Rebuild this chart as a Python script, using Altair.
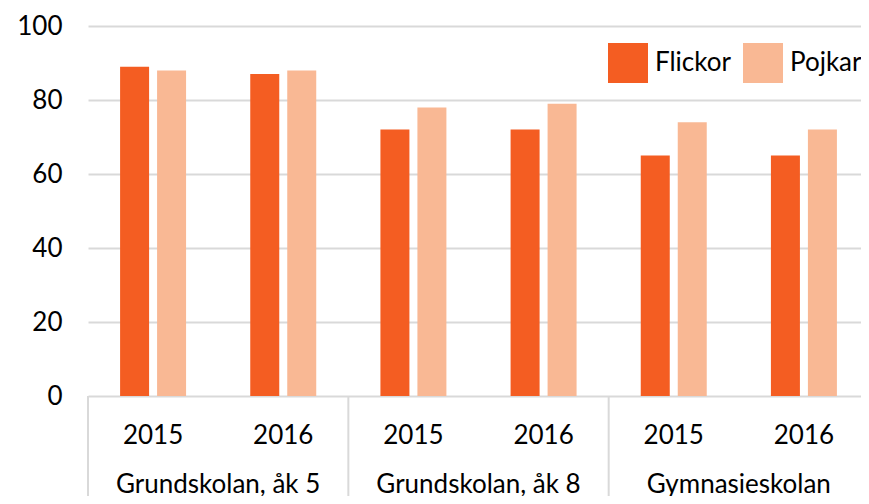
import altair as alt
import pandas as pd

grupper = ["Grundskolan, åk 5", "Grundskolan, åk 8", "Gymnasieskolan"]
ar = ["2015", "2016"]
serier = ["Flickor", "Pojkar"]
flickor = [89, 87, 72, 72, 65, 65]
pojkar = [88, 88, 78, 79, 74, 72]
grupp_pos = [1, 3, 5]
separator_pos = [0, 2, 4, 6]

FONT = "Lato"
FS = 26
W, H = 773, 370
FULLW = 781

keys, years, groups = [], [], []
for g in grupper:
    for a in ar:
        keys.append(f"{g} {a}")
        years.append(a)
        groups.append(g)

rows = []
for i, k in enumerate(keys):
    rows.append({"key": k, "ar": years[i], "grupp": groups[i], "serie": serier[0], "varde": flickor[i]})
    rows.append({"key": k, "ar": years[i], "grupp": groups[i], "serie": serier[1], "varde": pojkar[i]})
df = pd.DataFrame(rows)
df_years = pd.DataFrame({"key": keys, "ar": years})
df_groups = pd.DataFrame({"pos": grupp_pos, "namn": grupper})
df_sep = pd.DataFrame({"pos": separator_pos})

xscale = alt.Scale(domain=keys, paddingInner=0.493, paddingOuter=0.2465, range=[0, FULLW])

bars = alt.Chart(df).mark_bar().encode(
    x=alt.X("key:N", scale=xscale, axis=None, sort=keys),
    xOffset=alt.XOffset("serie:N", scale=alt.Scale(domain=serier, paddingInner=0.216, paddingOuter=0)),
    y=alt.Y("varde:Q", scale=alt.Scale(domain=[0, 100]),
            axis=alt.Axis(values=[0, 20, 40, 60, 80, 100], title=None, grid=True,
                          gridColor="#d9d9d9", gridWidth=2, domain=False, ticks=False,
                          labelFont=FONT, labelFontSize=FS, labelColor="#000000",
                          labelPadding=26)),
    color=alt.Color("serie:N", scale=alt.Scale(domain=serier, range=["#F45D22", "#F9B894"]),
                    legend=alt.Legend(title=None, orient="none", legendX=520, legendY=17,
                                      direction="horizontal", symbolType="square",
                                      symbolSize=1600, symbolStrokeWidth=0,
                                      labelFont=FONT, labelFontSize=FS, labelColor="#000000",
                                      labelOffset=7, columnPadding=12)),
)

year_text = alt.Chart(df_years).mark_text(font=FONT, fontSize=FS, color="#000000",
                                          baseline="alphabetic", align="center").encode(
    x=alt.X("key:N", scale=xscale, axis=None, sort=keys),
    y=alt.value(H + 48),
    text="ar:N",
)

qscale = alt.Scale(domain=[0, 6], nice=False, zero=False, range=[0, FULLW])
group_text = alt.Chart(df_groups).mark_text(font=FONT, fontSize=FS, color="#000000",
                                            baseline="alphabetic", align="center").encode(
    x=alt.X("pos:Q", scale=qscale, axis=None),
    y=alt.value(H + 97),
    text="namn:N",
)

seps = alt.Chart(df_sep).mark_rule(color="#d9d9d9", strokeWidth=2).encode(
    x=alt.X("pos:Q", scale=qscale, axis=None),
    y=alt.value(H),
    y2=alt.value(H + 120),
)

chart = alt.layer(bars, year_text, seps, group_text).resolve_scale(x="independent").properties(
    width=W, height=H,
    autosize=alt.AutoSizeParams(type="none"),
    padding={"left": 80, "top": 18, "right": 0, "bottom": 100},
).configure_view(stroke=None)

chart.save("out.html", embed_options={"renderer": "svg", "actions": False})
